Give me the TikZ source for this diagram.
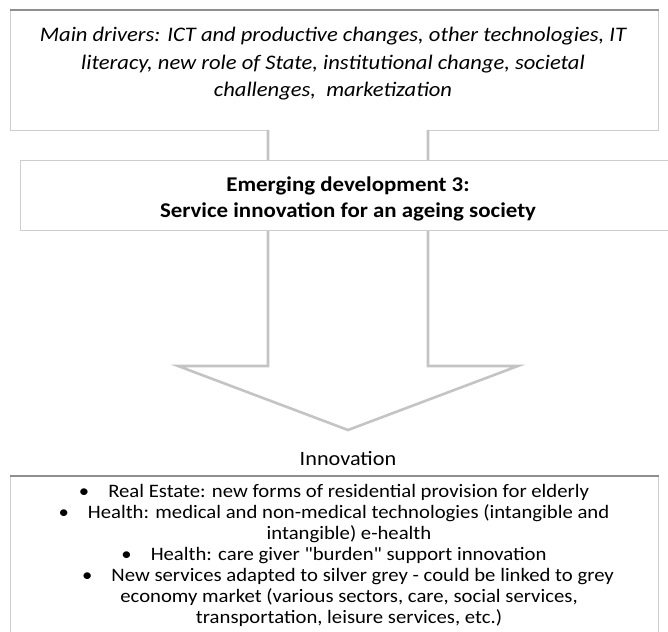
\documentclass[tikz,border=0pt]{standalone}
\usepackage{fontspec}
\setmainfont{Carlito}[FakeStretch=1.09]
\newfontfamily\plainq{Carlito}[FakeStretch=1.09,Ligatures=TeXOff]
\definecolor{boxline}{HTML}{CDCDCD}
\definecolor{shadeline}{HTML}{8E8E8E}
\definecolor{arrowline}{HTML}{C4C4C4}
\newcommand{\bul}{\textbullet\hspace{19pt}}
\newcommand{\sq}{{\plainq"}}
\begin{document}
\begin{tikzpicture}[x=1pt,y=-1pt,
  panel/.style={draw=boxline,line width=1.3pt,fill=white,inner sep=0pt,anchor=north west},
  topedge/.style={draw=shadeline,line width=2.4pt},
  bigarrow/.style={draw=arrowline,line width=2.6pt,fill=white,line join=miter},
  txt/.style={inner sep=0pt,align=center,font=\fontsize{20.5}{27.5}\selectfont},
  btxt/.style={inner sep=0pt,align=center,font=\fontsize{19}{21}\selectfont}]
\useasboundingbox (0,0) rectangle (668,631);
% top box
\node[panel,minimum width=648pt,minimum height=120pt] (top) at (10,10) {};
\draw[topedge] (top.north west) -- (top.north east);
\node[txt,font=\fontsize{20.7}{27.5}\selectfont\itshape] (drivers) at (333,64)
  {Main drivers: ICT and productive changes, other technologies, IT\\
   literacy, new role of State, institutional change, societal\\
   challenges,\ \ marketization};
% big arrow
\coordinate (a1) at (268,130);
\coordinate (a2) at (268,366);
\coordinate (a3) at (178,366);
\coordinate (tip) at (348,430);
\coordinate (a5) at (518,366);
\coordinate (a6) at (428,366);
\coordinate (a7) at (428,130);
\draw[bigarrow] (a1) -- (a2) -- (a3) -- (tip) -- (a5) -- (a6) -- (a7);
% emerging box
\node[panel,minimum width=660pt,minimum height=70pt] (emerg) at (20,160) {};
\node[txt,font=\fontsize{21}{26}\selectfont\bfseries] (emergtxt) at (348,199)
  {Emerging development 3:\\ Service innovation for an ageing society};
% innovation
\node[txt,font=\fontsize{20.4}{24}\selectfont] (innov) at (348,459) {Innovation};
\node[panel,minimum width=648pt,minimum height=170pt] (bottom) at (10,476) {};
\draw[topedge] (bottom.north west) -- (bottom.north east);
\node[btxt] (items) at (334,555)
  {\bul Real Estate: new forms of residential provision for elderly\\
   \bul Health: medical and non-medical technologies (intangible and\\
   \hspace*{30pt}intangible) e-health\\
   \bul Health: care giver \sq burden\sq{} support innovation\\
   \hspace*{28pt}\bul New services adapted to silver grey - could be linked to grey\\
   \hspace*{30pt}economy market (various sectors, care, social services,\\
   \hspace*{30pt}transportation, leisure services, etc.)};
\end{tikzpicture}
\end{document}
